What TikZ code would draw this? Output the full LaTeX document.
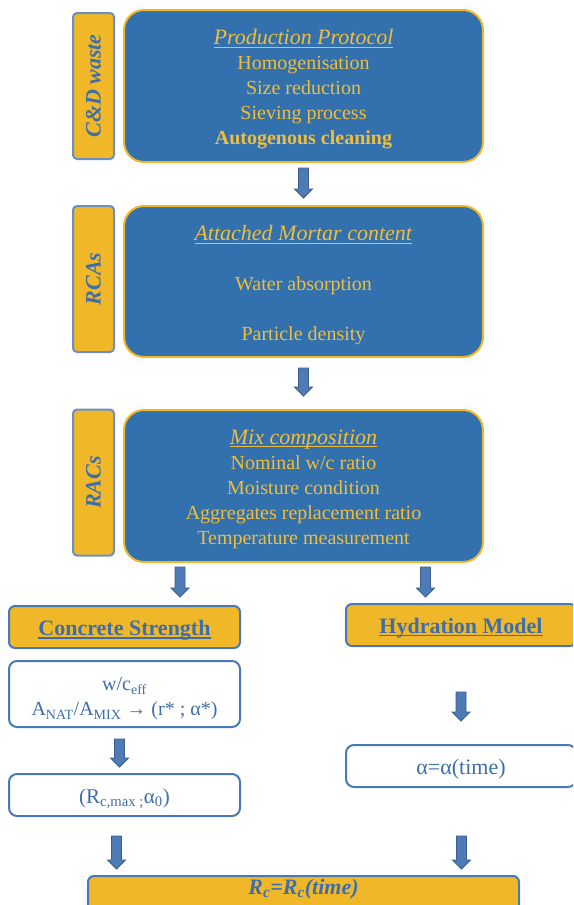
\documentclass[tikz,border=0pt]{standalone}
\usepackage{fontspec}
\setmainfont{Liberation Serif}
\usetikzlibrary{calc}
\newcommand{\myul}[1]{\leavevmode\setbox0\hbox{#1}\rlap{\rule[-3.2pt]{\wd0}{1.6pt}}\box0}
\definecolor{boxblue}{HTML}{3370AE}
\definecolor{gold}{HTML}{F0B829}
\definecolor{txtgold}{HTML}{F0BE3A}
\definecolor{txtblue}{HTML}{3D6EAB}
\definecolor{edgeblue}{HTML}{4A7AB6}
\definecolor{sideedge}{HTML}{6B8FC2}
\definecolor{arrfill}{HTML}{4E7AB5}
\definecolor{arredge}{HTML}{3A5E90}
\newcommand{\blockarrow}[2]{%
  \path[barrow] let \p1=(#1), \p2=(#2) in
    (\x1-5pt,\y1) -- (\x1+5pt,\y1) -- (\x1+5pt,\y2+9pt) -- (\x1+9pt,\y2+9pt)
    -- (\x1,\y2) -- (\x1-9pt,\y2+9pt) -- (\x1-5pt,\y2+9pt) -- cycle;}
\begin{document}
\begin{tikzpicture}[x=1pt,y=-1pt,
  mainbox/.style={draw=gold, line width=2pt, fill=boxblue, rounded corners=20pt,
    minimum width=359pt, inner sep=0pt},
  maintext/.style={text=txtgold, align=center, font=\fontsize{20}{25}\selectfont, inner sep=0pt},
  sidebox/.style={draw=sideedge, line width=2pt, fill=gold, rounded corners=4pt,
    minimum width=41pt, minimum height=146pt, text=txtblue,
    font=\fontsize{22}{25}\selectfont\bfseries\itshape, inner sep=0pt},
  headbox/.style={draw=edgeblue, line width=2pt, fill=gold, rounded corners=6pt,
    minimum height=42pt, inner sep=0pt},
  headtext/.style={text=txtblue, font=\fontsize{22}{25}\selectfont\bfseries, inner sep=0pt},
  whitebox/.style={draw=edgeblue, line width=2pt, fill=white, rounded corners=8pt, inner sep=0pt},
  bluetext/.style={text=txtblue, align=center, font=\fontsize{20}{25}\selectfont, inner sep=0pt},
  barrow/.style={fill=arrfill, draw=arredge, line width=0.8pt, line join=miter}
]
\useasboundingbox (0,0) rectangle (573,905);
\clip (0,0) rectangle (573,905);

% main blue boxes
\node[mainbox, minimum height=152pt] (b1) at (303.5,86) {};
\node[maintext] (t1) at (303.5,89.5)
  {{\fontsize{22}{25}\selectfont\myul{\textit{Production Protocol}}}\\
   Homogenisation\\ Size reduction\\ Sieving process\\ \textbf{Autogenous cleaning}};
\node[mainbox, minimum height=151pt] (b2) at (303.5,281.5) {};
\node[maintext] (t2) at (303.5,285.5)
  {{\fontsize{22}{25}\selectfont\myul{\textit{Attached Mortar content}}}\\[25pt]
   Water absorption\\[25pt] Particle density};
\node[mainbox, minimum height=152pt] (b3) at (303.5,486) {};
\node[maintext] (t3) at (303.5,489)
  {{\fontsize{22}{25}\selectfont\myul{\textit{Mix composition}}}\\
   Nominal w/c ratio\\ Moisture condition\\ Aggregates replacement ratio\\ Temperature measurement};

% side labels
\node[sidebox] (s1) at (93.5,86) {\rotatebox{90}{C\&D waste}};
\node[sidebox] (s2) at (93.5,279) {\rotatebox{90}{RCAs}};
\node[sidebox] (s3) at (93.5,482.5) {\rotatebox{90}{RACs}};

% lower boxes
\node[headbox, minimum width=231pt] (cs) at (124.5,627) {};
\node[headtext] (cst) at (124.5,630.5) {\myul{Concrete Strength}};
\node[headbox, minimum width=230pt] (hm) at (461,625) {};
\node[headtext] (hmt) at (461,628) {\myul{Hydration Model}};
\node[whitebox, minimum width=231pt, minimum height=66pt] (wc) at (124.5,694) {};
\node[bluetext] (wct) at (124.5,699)
  {w/c\textsubscript{eff}\\ A\textsubscript{NAT}/A\textsubscript{MIX} → (r* ; α*)};
\node[whitebox, minimum width=231pt, minimum height=42pt] (rm) at (124.5,795) {};
\node[bluetext, font=\fontsize{21}{25}\selectfont] (rmt) at (124.5,799)
  {(R\textsubscript{c,max ;}α\textsubscript{0})};
\node[whitebox, minimum width=230pt, minimum height=42pt] (al) at (461,766) {};
\node[bluetext, font=\fontsize{22}{25}\selectfont] (alt) at (461,769) {α=α(time)};
\node[headbox, minimum width=431pt, minimum height=50pt] (rc) at (303.5,901) {};
\node[text=txtblue, font=\fontsize{22}{25}\selectfont\bfseries\itshape, inner sep=0pt] (rct) at (303.5,889)
  {R\textsubscript{c}=R\textsubscript{c}(time)};

% connectors (block arrows)
\coordinate (a1s) at ($(b1.south)+(0,5)$);
\coordinate (a1e) at ($(b2.north)+(0,-7)$);
\coordinate (a2s) at ($(b2.south)+(0,10)$);
\coordinate (a2e) at ($(b3.north)+(0,-13)$);
\coordinate (a3s) at ($(b3.south)+(-123.5,4)$);
\coordinate (a3e) at ($(cs.north)+(55.5,-8)$);
\coordinate (a4s) at ($(b3.south)+(122,4)$);
\coordinate (a4e) at ($(hm.north)+(-35.5,-6)$);
\coordinate (a5s) at ($(wc.south)+(-5,11)$);
\coordinate (a5e) at ($(rm.north)+(-5,-6)$);
\coordinate (a6s) at ($(hm.south)+(0,45)$);
\coordinate (a6e) at ($(al.north)+(0,-23)$);
\coordinate (a7s) at ($(rm.south)+(-8,19)$);
\coordinate (a7e) at ($(rc.north)+(-187,-6)$);
\coordinate (a8s) at ($(al.south)+(0.5,48)$);
\coordinate (a8e) at ($(rc.north)+(158,-6)$);
\blockarrow{a1s}{a1e}
\blockarrow{a2s}{a2e}
\blockarrow{a3s}{a3e}
\blockarrow{a4s}{a4e}
\blockarrow{a5s}{a5e}
\blockarrow{a6s}{a6e}
\blockarrow{a7s}{a7e}
\blockarrow{a8s}{a8e}
\end{tikzpicture}
\end{document}
